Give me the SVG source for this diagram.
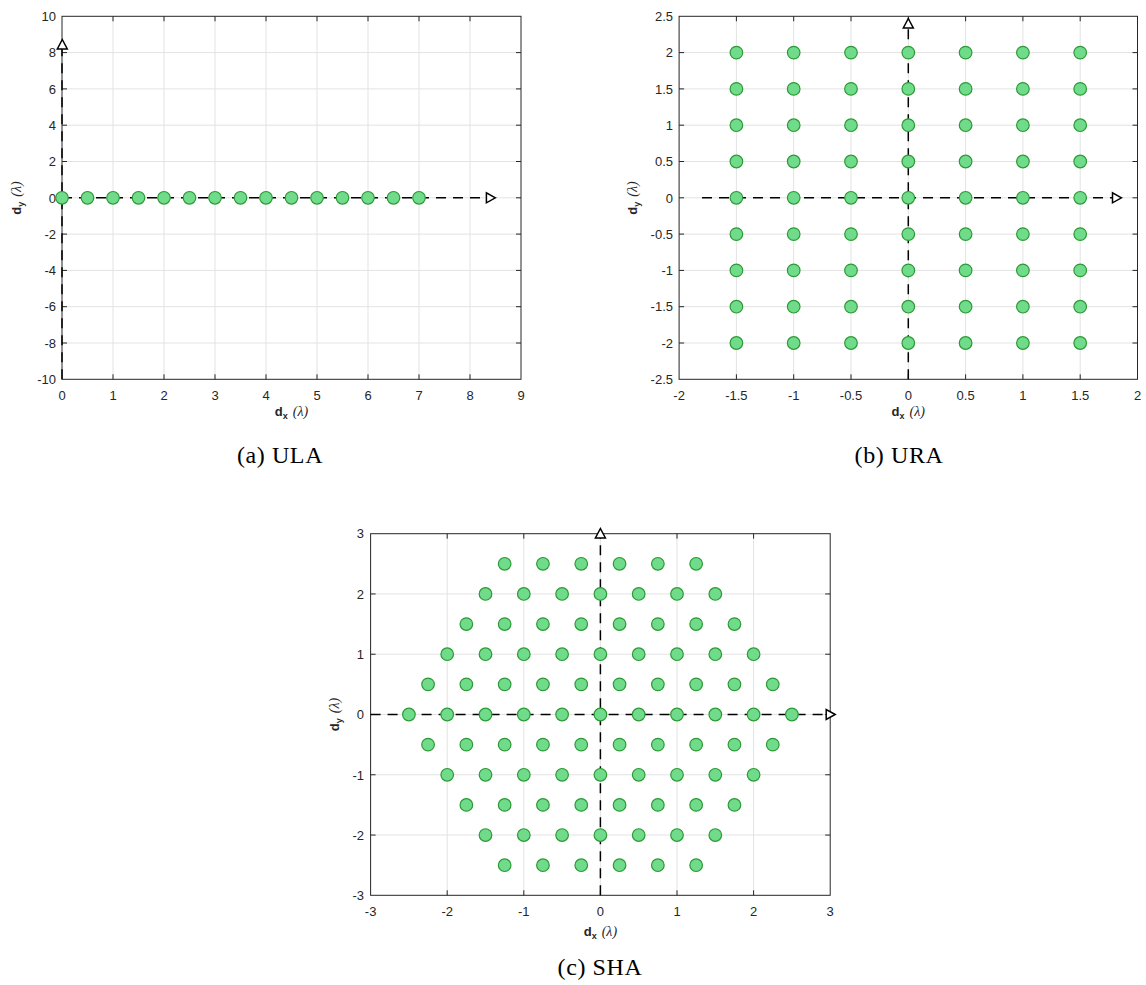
<svg xmlns="http://www.w3.org/2000/svg" width="1146" height="985" viewBox="0 0 1146 985">
<style>
.bg{fill:#fff}
.grid{stroke:#e3e3e3;stroke-width:1;fill:none}
.box{stroke:#262626;stroke-width:1;fill:none}
.tick{stroke:#262626;stroke-width:1}
.dash{stroke:#000;stroke-width:1.5;stroke-dasharray:10 7;fill:none}
.m{fill:#70db8b;stroke:#2b9a35;stroke-width:1.2}
.arr{fill:#fff;stroke:#000;stroke-width:1.5;stroke-linejoin:miter}
.tl{font-family:"Liberation Sans",Arial,sans-serif;font-size:13px;fill:#262626}
.r{text-anchor:end}
.c{text-anchor:middle}
.lab{font-family:"Liberation Sans",Arial,sans-serif;font-size:13px;fill:#262626;text-anchor:middle}
.lam{font-family:"Liberation Serif","Times New Roman",serif;font-style:italic;font-size:14px}
.cap{font-family:"Liberation Serif","Times New Roman",serif;font-size:24px;letter-spacing:0.6px;fill:#000;text-anchor:middle}
</style>
<defs>
<circle id="mk" r="6.3" class="m"/>
</defs>
<rect class="bg" x="0" y="0" width="1146" height="985"/>

<!-- ================= (a) ULA ================= -->
<g id="plotA">
<g class="grid">
<path d="M113 16.3V379.3M164 16.3V379.3M215 16.3V379.3M266 16.3V379.3M317 16.3V379.3M368 16.3V379.3M419 16.3V379.3M470 16.3V379.3"/>
<path d="M62 52.6H521M62 88.9H521M62 125.2H521M62 161.5H521M62 197.8H521M62 234.1H521M62 270.4H521M62 306.7H521M62 343H521"/>
</g>
<rect class="box" x="62" y="16.3" width="459" height="363"/>
<g class="tick">
<path d="M113 379.3v-5M164 379.3v-5M215 379.3v-5M266 379.3v-5M317 379.3v-5M368 379.3v-5M419 379.3v-5M470 379.3v-5"/>
<path d="M113 16.3v5M164 16.3v5M215 16.3v5M266 16.3v5M317 16.3v5M368 16.3v5M419 16.3v5M470 16.3v5"/>
<path d="M62 52.6h5M62 88.9h5M62 125.2h5M62 161.5h5M62 197.8h5M62 234.1h5M62 270.4h5M62 306.7h5M62 343h5"/>
<path d="M521 52.6h-5M521 88.9h-5M521 125.2h-5M521 161.5h-5M521 197.8h-5M521 234.1h-5M521 270.4h-5M521 306.7h-5M521 343h-5"/>
</g>
<g class="tl c">
<text x="62" y="400">0</text><text x="113" y="400">1</text><text x="164" y="400">2</text><text x="215" y="400">3</text><text x="266" y="400">4</text><text x="317" y="400">5</text><text x="368" y="400">6</text><text x="419" y="400">7</text><text x="470" y="400">8</text><text x="521" y="400">9</text>
</g>
<g class="tl r">
<text x="56" y="21">10</text><text x="56" y="57.3">8</text><text x="56" y="93.6">6</text><text x="56" y="129.9">4</text><text x="56" y="166.2">2</text><text x="56" y="202.5">0</text><text x="56" y="238.8">-2</text><text x="56" y="275.1">-4</text><text x="56" y="311.4">-6</text><text x="56" y="347.7">-8</text><text x="56" y="384">-10</text>
</g>
<text class="lab" x="291.5" y="416"><tspan font-weight="bold">d</tspan><tspan font-weight="bold" font-size="9" dy="3">x</tspan><tspan class="lam" dy="-3" dx="5">(λ)</tspan></text>
<text class="lab" transform="translate(21 198) rotate(-90)"><tspan font-weight="bold">d</tspan><tspan font-weight="bold" font-size="9" dy="3">y</tspan><tspan class="lam" dy="-3" dx="5">(λ)</tspan></text>
<text class="cap" x="280" y="463">(a) ULA</text>
</g>

<!-- ================= (b) URA ================= -->
<g id="plotB">
<g class="grid">
<path d="M736.4 16.3V379.3M793.7 16.3V379.3M851 16.3V379.3M908.3 16.3V379.3M965.6 16.3V379.3M1022.9 16.3V379.3M1080.2 16.3V379.3"/>
<path d="M679.1 52.6H1137.5M679.1 88.9H1137.5M679.1 125.2H1137.5M679.1 161.5H1137.5M679.1 197.8H1137.5M679.1 234.1H1137.5M679.1 270.4H1137.5M679.1 306.7H1137.5M679.1 343H1137.5"/>
</g>
<rect class="box" x="679.1" y="16.3" width="458.4" height="363"/>
<g class="tick">
<path d="M736.4 379.3v-5M793.7 379.3v-5M851 379.3v-5M908.3 379.3v-5M965.6 379.3v-5M1022.9 379.3v-5M1080.2 379.3v-5"/>
<path d="M736.4 16.3v5M793.7 16.3v5M851 16.3v5M908.3 16.3v5M965.6 16.3v5M1022.9 16.3v5M1080.2 16.3v5"/>
<path d="M679.1 52.6h5M679.1 88.9h5M679.1 125.2h5M679.1 161.5h5M679.1 197.8h5M679.1 234.1h5M679.1 270.4h5M679.1 306.7h5M679.1 343h5"/>
<path d="M1137.5 52.6h-5M1137.5 88.9h-5M1137.5 125.2h-5M1137.5 161.5h-5M1137.5 197.8h-5M1137.5 234.1h-5M1137.5 270.4h-5M1137.5 306.7h-5M1137.5 343h-5"/>
</g>
<g class="tl c">
<text x="679.1" y="400">-2</text><text x="736.4" y="400">-1.5</text><text x="793.7" y="400">-1</text><text x="851" y="400">-0.5</text><text x="908.3" y="400">0</text><text x="965.6" y="400">0.5</text><text x="1022.9" y="400">1</text><text x="1080.2" y="400">1.5</text><text x="1137.5" y="400">2</text>
</g>
<g class="tl r">
<text x="673" y="21">2.5</text><text x="673" y="57.3">2</text><text x="673" y="93.6">1.5</text><text x="673" y="129.9">1</text><text x="673" y="166.2">0.5</text><text x="673" y="202.5">0</text><text x="673" y="238.8">-0.5</text><text x="673" y="275.1">-1</text><text x="673" y="311.4">-1.5</text><text x="673" y="347.7">-2</text><text x="673" y="384">-2.5</text>
</g>
<text class="lab" x="908.3" y="416"><tspan font-weight="bold">d</tspan><tspan font-weight="bold" font-size="9" dy="3">x</tspan><tspan class="lam" dy="-3" dx="5">(λ)</tspan></text>
<text class="lab" transform="translate(637 198) rotate(-90)"><tspan font-weight="bold">d</tspan><tspan font-weight="bold" font-size="9" dy="3">y</tspan><tspan class="lam" dy="-3" dx="5">(λ)</tspan></text>
<text class="cap" x="899" y="463">(b) URA</text>
</g>

<!-- ================= (c) SHA ================= -->
<g id="plotC">
<g class="grid">
<path d="M447.2 533.7V895.3M523.8 533.7V895.3M600.4 533.7V895.3M677 533.7V895.3M753.6 533.7V895.3"/>
<path d="M370.6 593.94H830.2M370.6 654.22H830.2M370.6 714.5H830.2M370.6 774.78H830.2M370.6 835.06H830.2"/>
</g>
<rect class="box" x="370.6" y="533.7" width="459.6" height="361.6"/>
<g class="tick">
<path d="M447.2 895.3v-5M523.8 895.3v-5M600.4 895.3v-5M677 895.3v-5M753.6 895.3v-5"/>
<path d="M447.2 533.7v5M523.8 533.7v5M600.4 533.7v5M677 533.7v5M753.6 533.7v5"/>
<path d="M370.6 593.94h5M370.6 654.22h5M370.6 714.5h5M370.6 774.78h5M370.6 835.06h5"/>
<path d="M830.2 593.94h-5M830.2 654.22h-5M830.2 714.5h-5M830.2 774.78h-5M830.2 835.06h-5"/>
</g>
<g class="tl c">
<text x="370.6" y="916">-3</text><text x="447.2" y="916">-2</text><text x="523.8" y="916">-1</text><text x="600.4" y="916">0</text><text x="677" y="916">1</text><text x="753.6" y="916">2</text><text x="830.2" y="916">3</text>
</g>
<g class="tl r">
<text x="364" y="538.4">3</text><text x="364" y="598.6">2</text><text x="364" y="658.9">1</text><text x="364" y="719.2">0</text><text x="364" y="779.5">-1</text><text x="364" y="839.8">-2</text><text x="364" y="900">-3</text>
</g>
<text class="lab" x="600.4" y="936"><tspan font-weight="bold">d</tspan><tspan font-weight="bold" font-size="9" dy="3">x</tspan><tspan class="lam" dy="-3" dx="5">(λ)</tspan></text>
<text class="lab" transform="translate(339 714.5) rotate(-90)"><tspan font-weight="bold">d</tspan><tspan font-weight="bold" font-size="9" dy="3">y</tspan><tspan class="lam" dy="-3" dx="5">(λ)</tspan></text>
<text class="cap" x="600" y="975">(c) SHA</text>
</g>

<!-- ================= connectors (dashed axes + arrowheads) ================= -->
<g id="connectors">
<path class="dash" d="M62 197.8H490.4"/>
<path class="dash" d="M62 379.3V45"/>
<path class="dash" d="M702 197.8H1115"/>
<path class="dash" d="M908.3 379.3V24"/>
<path class="dash" d="M370.6 714.5H830.2"/>
<path class="dash" d="M600.4 895.3V533.7"/>
</g>

<!-- ================= elements ================= -->
<g id="elementsA">
<use href="#mk" x="62" y="197.8"/><use href="#mk" x="87.5" y="197.8"/><use href="#mk" x="113" y="197.8"/><use href="#mk" x="138.5" y="197.8"/><use href="#mk" x="164" y="197.8"/><use href="#mk" x="189.5" y="197.8"/><use href="#mk" x="215" y="197.8"/><use href="#mk" x="240.5" y="197.8"/><use href="#mk" x="266" y="197.8"/><use href="#mk" x="291.5" y="197.8"/><use href="#mk" x="317" y="197.8"/><use href="#mk" x="342.5" y="197.8"/><use href="#mk" x="368" y="197.8"/><use href="#mk" x="393.5" y="197.8"/><use href="#mk" x="419" y="197.8"/>
</g>

<g id="elementsB">
<g><use href="#mk" x="736.4" y="52.6"/><use href="#mk" x="793.7" y="52.6"/><use href="#mk" x="851" y="52.6"/><use href="#mk" x="908.3" y="52.6"/><use href="#mk" x="965.6" y="52.6"/><use href="#mk" x="1022.9" y="52.6"/><use href="#mk" x="1080.2" y="52.6"/></g>
<g><use href="#mk" x="736.4" y="88.9"/><use href="#mk" x="793.7" y="88.9"/><use href="#mk" x="851" y="88.9"/><use href="#mk" x="908.3" y="88.9"/><use href="#mk" x="965.6" y="88.9"/><use href="#mk" x="1022.9" y="88.9"/><use href="#mk" x="1080.2" y="88.9"/></g>
<g><use href="#mk" x="736.4" y="125.2"/><use href="#mk" x="793.7" y="125.2"/><use href="#mk" x="851" y="125.2"/><use href="#mk" x="908.3" y="125.2"/><use href="#mk" x="965.6" y="125.2"/><use href="#mk" x="1022.9" y="125.2"/><use href="#mk" x="1080.2" y="125.2"/></g>
<g><use href="#mk" x="736.4" y="161.5"/><use href="#mk" x="793.7" y="161.5"/><use href="#mk" x="851" y="161.5"/><use href="#mk" x="908.3" y="161.5"/><use href="#mk" x="965.6" y="161.5"/><use href="#mk" x="1022.9" y="161.5"/><use href="#mk" x="1080.2" y="161.5"/></g>
<g><use href="#mk" x="736.4" y="197.8"/><use href="#mk" x="793.7" y="197.8"/><use href="#mk" x="851" y="197.8"/><use href="#mk" x="908.3" y="197.8"/><use href="#mk" x="965.6" y="197.8"/><use href="#mk" x="1022.9" y="197.8"/><use href="#mk" x="1080.2" y="197.8"/></g>
<g><use href="#mk" x="736.4" y="234.1"/><use href="#mk" x="793.7" y="234.1"/><use href="#mk" x="851" y="234.1"/><use href="#mk" x="908.3" y="234.1"/><use href="#mk" x="965.6" y="234.1"/><use href="#mk" x="1022.9" y="234.1"/><use href="#mk" x="1080.2" y="234.1"/></g>
<g><use href="#mk" x="736.4" y="270.4"/><use href="#mk" x="793.7" y="270.4"/><use href="#mk" x="851" y="270.4"/><use href="#mk" x="908.3" y="270.4"/><use href="#mk" x="965.6" y="270.4"/><use href="#mk" x="1022.9" y="270.4"/><use href="#mk" x="1080.2" y="270.4"/></g>
<g><use href="#mk" x="736.4" y="306.7"/><use href="#mk" x="793.7" y="306.7"/><use href="#mk" x="851" y="306.7"/><use href="#mk" x="908.3" y="306.7"/><use href="#mk" x="965.6" y="306.7"/><use href="#mk" x="1022.9" y="306.7"/><use href="#mk" x="1080.2" y="306.7"/></g>
<g><use href="#mk" x="736.4" y="343"/><use href="#mk" x="793.7" y="343"/><use href="#mk" x="851" y="343"/><use href="#mk" x="908.3" y="343"/><use href="#mk" x="965.6" y="343"/><use href="#mk" x="1022.9" y="343"/><use href="#mk" x="1080.2" y="343"/></g>
</g>

<g id="elementsC">
<g><use href="#mk" x="504.65" y="563.8"/><use href="#mk" x="542.95" y="563.8"/><use href="#mk" x="581.25" y="563.8"/><use href="#mk" x="619.55" y="563.8"/><use href="#mk" x="657.85" y="563.8"/><use href="#mk" x="696.15" y="563.8"/></g>
<g><use href="#mk" x="485.5" y="593.94"/><use href="#mk" x="523.8" y="593.94"/><use href="#mk" x="562.1" y="593.94"/><use href="#mk" x="600.4" y="593.94"/><use href="#mk" x="638.7" y="593.94"/><use href="#mk" x="677" y="593.94"/><use href="#mk" x="715.3" y="593.94"/></g>
<g><use href="#mk" x="466.35" y="624.08"/><use href="#mk" x="504.65" y="624.08"/><use href="#mk" x="542.95" y="624.08"/><use href="#mk" x="581.25" y="624.08"/><use href="#mk" x="619.55" y="624.08"/><use href="#mk" x="657.85" y="624.08"/><use href="#mk" x="696.15" y="624.08"/><use href="#mk" x="734.45" y="624.08"/></g>
<g><use href="#mk" x="447.2" y="654.22"/><use href="#mk" x="485.5" y="654.22"/><use href="#mk" x="523.8" y="654.22"/><use href="#mk" x="562.1" y="654.22"/><use href="#mk" x="600.4" y="654.22"/><use href="#mk" x="638.7" y="654.22"/><use href="#mk" x="677" y="654.22"/><use href="#mk" x="715.3" y="654.22"/><use href="#mk" x="753.6" y="654.22"/></g>
<g><use href="#mk" x="428.05" y="684.36"/><use href="#mk" x="466.35" y="684.36"/><use href="#mk" x="504.65" y="684.36"/><use href="#mk" x="542.95" y="684.36"/><use href="#mk" x="581.25" y="684.36"/><use href="#mk" x="619.55" y="684.36"/><use href="#mk" x="657.85" y="684.36"/><use href="#mk" x="696.15" y="684.36"/><use href="#mk" x="734.45" y="684.36"/><use href="#mk" x="772.75" y="684.36"/></g>
<g><use href="#mk" x="408.9" y="714.5"/><use href="#mk" x="447.2" y="714.5"/><use href="#mk" x="485.5" y="714.5"/><use href="#mk" x="523.8" y="714.5"/><use href="#mk" x="562.1" y="714.5"/><use href="#mk" x="600.4" y="714.5"/><use href="#mk" x="638.7" y="714.5"/><use href="#mk" x="677" y="714.5"/><use href="#mk" x="715.3" y="714.5"/><use href="#mk" x="753.6" y="714.5"/><use href="#mk" x="791.9" y="714.5"/></g>
<g><use href="#mk" x="428.05" y="744.64"/><use href="#mk" x="466.35" y="744.64"/><use href="#mk" x="504.65" y="744.64"/><use href="#mk" x="542.95" y="744.64"/><use href="#mk" x="581.25" y="744.64"/><use href="#mk" x="619.55" y="744.64"/><use href="#mk" x="657.85" y="744.64"/><use href="#mk" x="696.15" y="744.64"/><use href="#mk" x="734.45" y="744.64"/><use href="#mk" x="772.75" y="744.64"/></g>
<g><use href="#mk" x="447.2" y="774.78"/><use href="#mk" x="485.5" y="774.78"/><use href="#mk" x="523.8" y="774.78"/><use href="#mk" x="562.1" y="774.78"/><use href="#mk" x="600.4" y="774.78"/><use href="#mk" x="638.7" y="774.78"/><use href="#mk" x="677" y="774.78"/><use href="#mk" x="715.3" y="774.78"/><use href="#mk" x="753.6" y="774.78"/></g>
<g><use href="#mk" x="466.35" y="804.92"/><use href="#mk" x="504.65" y="804.92"/><use href="#mk" x="542.95" y="804.92"/><use href="#mk" x="581.25" y="804.92"/><use href="#mk" x="619.55" y="804.92"/><use href="#mk" x="657.85" y="804.92"/><use href="#mk" x="696.15" y="804.92"/><use href="#mk" x="734.45" y="804.92"/></g>
<g><use href="#mk" x="485.5" y="835.06"/><use href="#mk" x="523.8" y="835.06"/><use href="#mk" x="562.1" y="835.06"/><use href="#mk" x="600.4" y="835.06"/><use href="#mk" x="638.7" y="835.06"/><use href="#mk" x="677" y="835.06"/><use href="#mk" x="715.3" y="835.06"/></g>
<g><use href="#mk" x="504.65" y="865.2"/><use href="#mk" x="542.95" y="865.2"/><use href="#mk" x="581.25" y="865.2"/><use href="#mk" x="619.55" y="865.2"/><use href="#mk" x="657.85" y="865.2"/><use href="#mk" x="696.15" y="865.2"/></g>
</g>

<g id="arrowheads">
<path class="arr" d="M62.3 39.5L67.3 49L57.3 49Z"/>
<path class="arr" d="M495.4 197.8L486.4 192.8L486.4 202.8Z"/>
<path class="arr" d="M908.3 18.5L913.3 28L903.3 28Z"/>
<path class="arr" d="M1121.5 197.8L1112.5 192.8L1112.5 202.8Z"/>
<path class="arr" d="M600.4 528.5L605.4 538L595.4 538Z"/>
<path class="arr" d="M835.2 714.5L826.2 709.5L826.2 719.5Z"/>
</g>
</svg>
